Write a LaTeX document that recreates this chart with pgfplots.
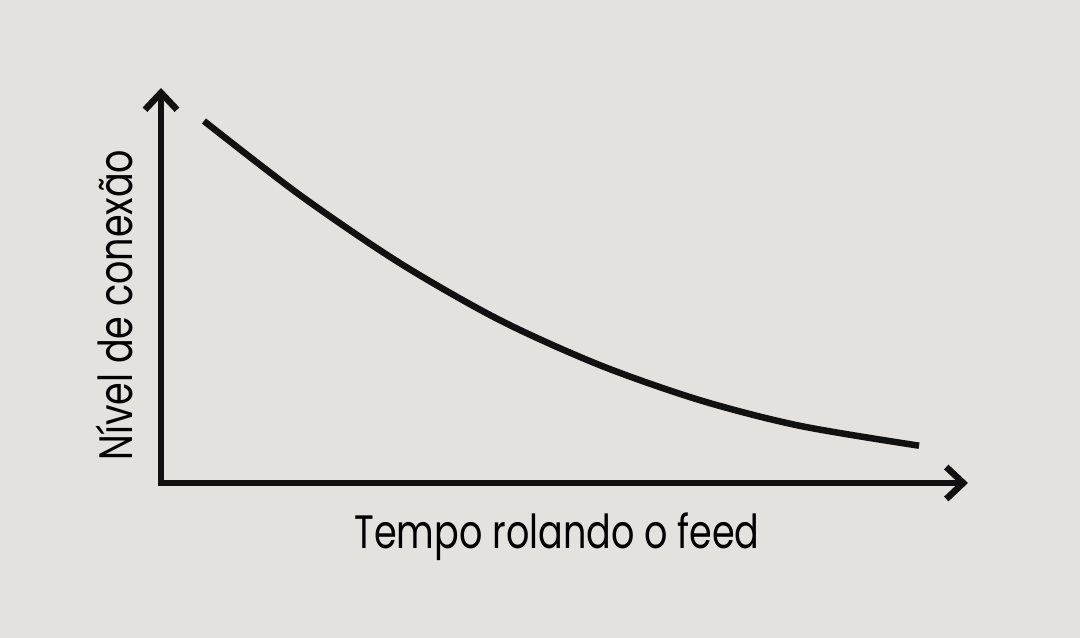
\documentclass[border=0pt]{standalone}
\usepackage{fontspec}
\setmainfont[FakeStretch=0.78]{Poppins}
\usepackage{pgfplots}
\pgfplotsset{compat=1.18}
\usetikzlibrary{arrows.meta}

\definecolor{bgc}{RGB}{227,226,222}
\definecolor{ink}{RGB}{17,17,17}

\begin{document}
\begin{tikzpicture}
\fill[bgc] (0,0) rectangle (1080bp,638bp);
\begin{axis}[
    at={(161bp,155bp)}, anchor=origin,
    scale only axis,
    width=807bp, height=395bp,
    xmin=0, xmax=808, ymin=0, ymax=395,
    axis lines=left,
    axis line style={line width=6.5bp, ink, line cap=rect},
    every outer x axis line/.append style={-{Straight Barb[length=17bp,width=32bp,line width=6.5bp,sharp]}},
    every outer y axis line/.append style={-{Straight Barb[length=17bp,width=32bp,line width=6.5bp,sharp]}},
    xtick=\empty, ytick=\empty,
    clip=false,
    xlabel={Tempo rolando o feed},
    ylabel={Nível de conexão},
    label style={font=\fontsize{47}{56}\selectfont, text=black},
    xlabel style={at={(axis description cs:0.4907,-0.1646)}, anchor=base},
    ylabel style={at={(axis description cs:-0.0347,0.4506)}, anchor=base, rotate=0},
]
\addplot[smooth, line width=6.5bp, color=ink] coordinates {
    (43,362) (139,288) (239,220) (339,163) (439,118)
    (539,83) (639,57.3) (759,37.3)
};
\end{axis}
\end{tikzpicture}
\end{document}
